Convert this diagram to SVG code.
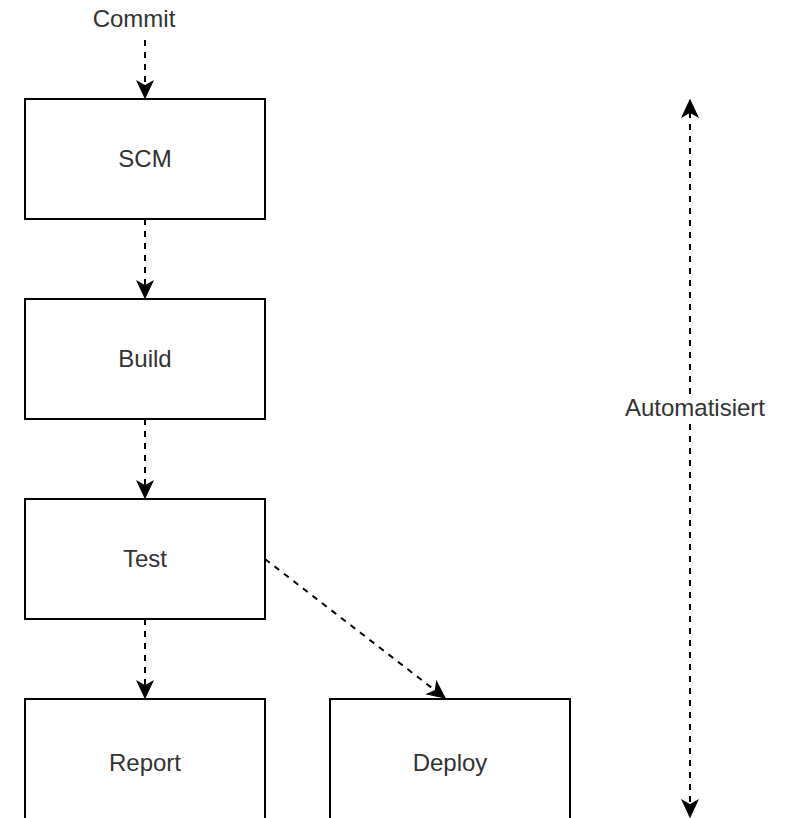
<svg xmlns="http://www.w3.org/2000/svg" width="790" height="818" viewBox="0 0 790 818">
<style>
.box{fill:#fff;stroke:#000;stroke-width:2}
.lbl{font-family:"Liberation Sans",Arial,sans-serif;font-size:24px;fill:#333;text-anchor:middle}
.edge{fill:none;stroke:#000;stroke-width:2;stroke-dasharray:6 6}
</style>
<defs>
<marker id="arr" markerUnits="userSpaceOnUse" markerWidth="20" markerHeight="20" viewBox="-17 -9 18 18" refX="0" refY="0" orient="auto-start-reverse">
<path d="M0,0 L-15,-7 L-11,0 L-15,7 Z" fill="#000" stroke="#000" stroke-width="1"/>
</marker>
</defs>
<rect width="790" height="818" fill="#fff"/>
<g id="connectors">
<path class="edge" d="M145,40 L145,98" marker-end="url(#arr)"/>
<path class="edge" d="M145,219 L145,298" marker-end="url(#arr)"/>
<path class="edge" d="M145,419 L145,498" marker-end="url(#arr)"/>
<path class="edge" d="M145,619 L145,698" marker-end="url(#arr)"/>
<path class="edge" d="M265,559 L445,698" marker-end="url(#arr)"/>
<path class="edge" d="M690,100 L690,817" marker-start="url(#arr)" marker-end="url(#arr)"/>
</g>
<g id="commit"><text class="lbl" x="134" y="27">Commit</text></g>
<g id="scm"><rect class="box" x="25" y="99" width="240" height="120"/><text class="lbl" x="145" y="167">SCM</text></g>
<g id="build"><rect class="box" x="25" y="299" width="240" height="120"/><text class="lbl" x="145" y="367">Build</text></g>
<g id="test"><rect class="box" x="25" y="499" width="240" height="120"/><text class="lbl" x="145" y="567">Test</text></g>
<g id="report"><rect class="box" x="25" y="699" width="240" height="120"/><text class="lbl" x="145" y="771">Report</text></g>
<g id="deploy"><rect class="box" x="330" y="699" width="240" height="120"/><text class="lbl" x="450" y="771">Deploy</text></g>
<g id="automatisiert"><rect x="624" y="396" width="142" height="26" fill="#fff"/><text class="lbl" x="695" y="416">Automatisiert</text></g>
</svg>
